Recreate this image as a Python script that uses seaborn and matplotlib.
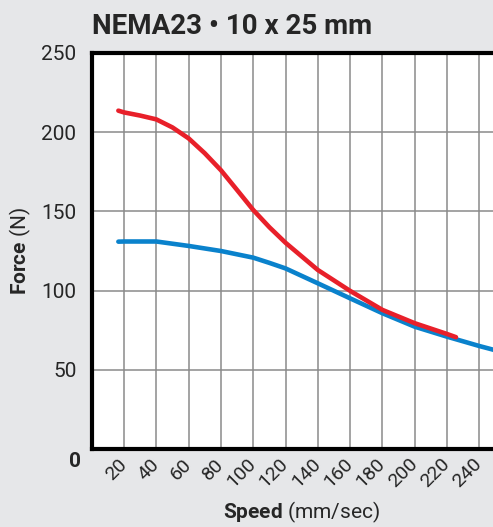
import seaborn as sns
import pandas as pd
import matplotlib.pyplot as plt

# Datos (velocidad en mm/s, fuerza en N)
speed_red = [16.5, 20, 30, 40, 50, 60, 70, 80, 90, 100, 110, 120, 140, 160, 180, 200, 220, 225.5]
force_red = [213.6, 212.5, 210.5, 208.1, 203, 196.1, 186.7, 176, 163.5, 150.9, 140, 130.2, 113, 99.8, 87.8, 79.4, 72.6, 70.6]

speed_blue = [16.5, 20, 40, 50, 60, 80, 100, 110, 120, 140, 160, 180, 200, 220, 240, 250, 260]
force_blue = [130.9, 131, 131, 129.6, 128.2, 125, 120.8, 117.5, 114, 104.6, 95.1, 85.7, 77.2, 70.9, 65, 62.3, 59.5]

x_ticks = [20, 40, 60, 80, 100, 120, 140, 160, 180, 200, 220, 240]
y_ticks = [50, 100, 150, 200, 250]

bg = "#e6e7e9"
red = "#e8202a"
blue = "#0a82cc"

df = pd.concat([
    pd.DataFrame({"Speed": speed_red, "Force": force_red, "serie": "rojo"}),
    pd.DataFrame({"Speed": speed_blue, "Force": force_blue, "serie": "azul"}),
])

sns.set_style("white")
plt.rcParams["font.family"] = ["Roboto", "DejaVu Sans"]
plt.rcParams["mathtext.fontset"] = "custom"
plt.rcParams["mathtext.bf"] = "Roboto:bold"
plt.rcParams["mathtext.rm"] = "Roboto"

fig = plt.figure(figsize=(4.93, 5.27), dpi=100, facecolor=bg)
ax = fig.add_axes([91.7 / 493, 78 / 527, 420 / 493, 396 / 527])
ax.set_facecolor("white")

sns.lineplot(data=df, x="Speed", y="Force", hue="serie", palette={"rojo": red, "azul": blue},
             hue_order=["azul", "rojo"], linewidth=3.3, legend=False, ax=ax,
             solid_capstyle="round", sort=False)

ax.set_xlim(0, 260)
ax.set_ylim(0, 250)
ax.set_xticks(x_ticks)
ax.set_yticks(y_ticks)
ax.set_xticklabels([str(t) for t in x_ticks], rotation=45, ha="right", va="center",
                   rotation_mode="anchor", fontsize=14)
ax.set_yticklabels([str(t) for t in y_ticks], fontsize=15)
ax.tick_params(axis="both", length=0)
ax.tick_params(axis="x", pad=9)
ax.tick_params(axis="y", pad=11)

ax.grid(True, color="#8a8a8a", linewidth=1.1)
ax.set_axisbelow(True)

for s in ["left", "top", "bottom"]:
    ax.spines[s].set_color("black")
    ax.spines[s].set_linewidth(3)
ax.spines["right"].set_visible(False)

# "0" en negrita debajo del origen
ax.annotate("0", xy=(0, 0), xycoords="axes fraction", xytext=(-12, -9),
            textcoords="offset points", ha="center", va="center",
            fontsize=15, fontweight="bold")

ax.set_xlabel(r"$\bf{Speed}$ (mm/sec)", fontsize=15, labelpad=6)
ax.set_ylabel(r"$\bf{Force}$ (N)", fontsize=15, labelpad=6)
ax.set_title("NEMA23 • 10 x 25 mm", loc="left", fontsize=20, fontweight="bold", pad=14)

plt.savefig("out.png", dpi=100, facecolor=bg)
plt.close()
